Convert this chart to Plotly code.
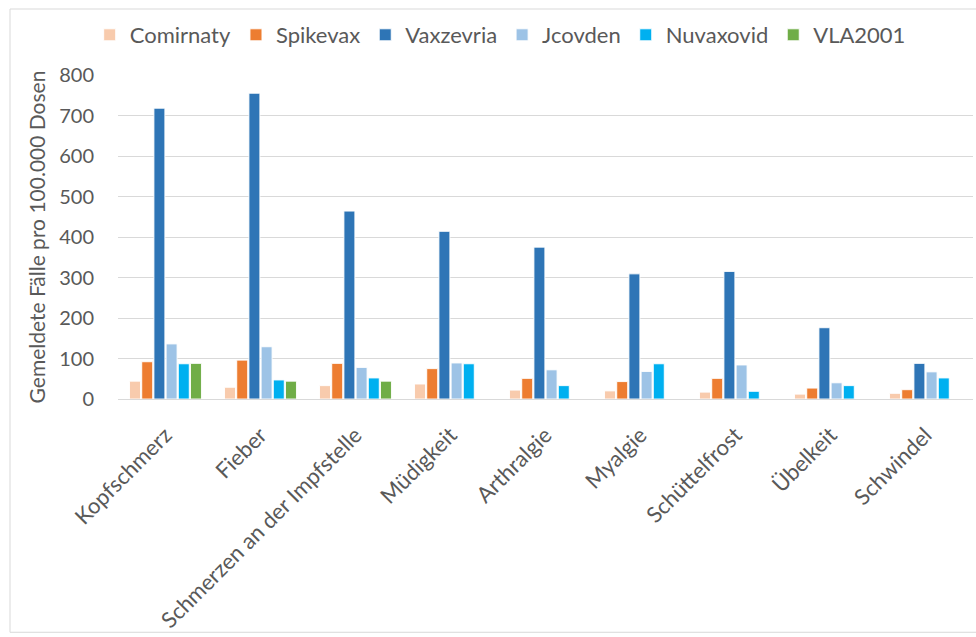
import plotly.graph_objects as go

categories = ["Kopfschmerz", "Fieber", "Schmerzen an der Impfstelle", "Müdigkeit",
              "Arthralgie", "Myalgie", "Schüttelfrost", "Übelkeit", "Schwindel"]

comirnaty = [44, 29, 33, 37, 22, 20, 17, 12, 14]
spikevax = [92, 96, 88, 75, 51, 43, 51, 27, 23]
vaxzevria = [718, 755, 464, 414, 375, 309, 315, 176, 88]
jcovden = [136, 129, 78, 89, 72, 68, 84, 40, 67]
nuvaxovid = [87, 47, 52, 87, 33, 87, 19, 33, 52]
vla2001 = [88, 44, 44, None, None, None, None, None, None]

series_names = ["Comirnaty", "Spikevax", "Vaxzevria", "Jcovden", "Nuvaxovid", "VLA2001"]
series_values = [comirnaty, spikevax, vaxzevria, jcovden, nuvaxovid, vla2001]
series_colors = ["#F8CBAD", "#ED7D31", "#2E75B6", "#9DC3E6", "#00B0F0", "#70AD47"]

y_ticks = [0, 100, 200, 300, 400, 500, 600, 700, 800]

FONT = "Lato, 'Open Sans', sans-serif"
GRAY = "#595959"

fig = go.Figure()
for name, vals, col in zip(series_names, series_values, series_colors):
    fig.add_trace(go.Bar(
        name=name, x=categories, y=vals,
        marker=dict(color=col, line=dict(color="rgba(255,255,255,0.9)", width=1)),
    ))

fig.update_layout(
    width=976, height=637,
    margin=dict(l=118, r=3, t=75, b=238, autoexpand=False),
    paper_bgcolor="white", plot_bgcolor="white",
    barmode="group", bargap=0.23, bargroupgap=0.1,
    font=dict(family=FONT, color=GRAY, size=20),
    legend=dict(orientation="h", x=0.447, xanchor="center", y=1.1235, yanchor="middle",
                font=dict(family=FONT, size=22, color=GRAY), traceorder="normal",
                itemwidth=30, bgcolor="rgba(0,0,0,0)"),
    xaxis=dict(showline=False, showgrid=False, ticks="", tickangle=-45,
               ticklabelstandoff=18,
               tickfont=dict(family=FONT, size=22, color=GRAY)),
    yaxis=dict(range=[0, 800], tickvals=y_ticks, showgrid=True, gridcolor="#d9d9d9",
               gridwidth=1, zeroline=True, zerolinecolor="#d9d9d9", zerolinewidth=1,
               showline=False, ticks="", ticklabelstandoff=23,
               tickfont=dict(family=FONT, size=20, color=GRAY),
               title=dict(text="Gemeldete Fälle pro 100.000 Dosen", standoff=7,
                          font=dict(family=FONT, size=21, color=GRAY))),
    shapes=[dict(type="rect", xref="paper", yref="paper",
                 x0=-0.1263, x1=1.01, y0=-0.72, y1=1.2037,
                 line=dict(color="#d9d9d9", width=1), fillcolor="rgba(0,0,0,0)", layer="below")],
)

fig.write_html("out.html")
